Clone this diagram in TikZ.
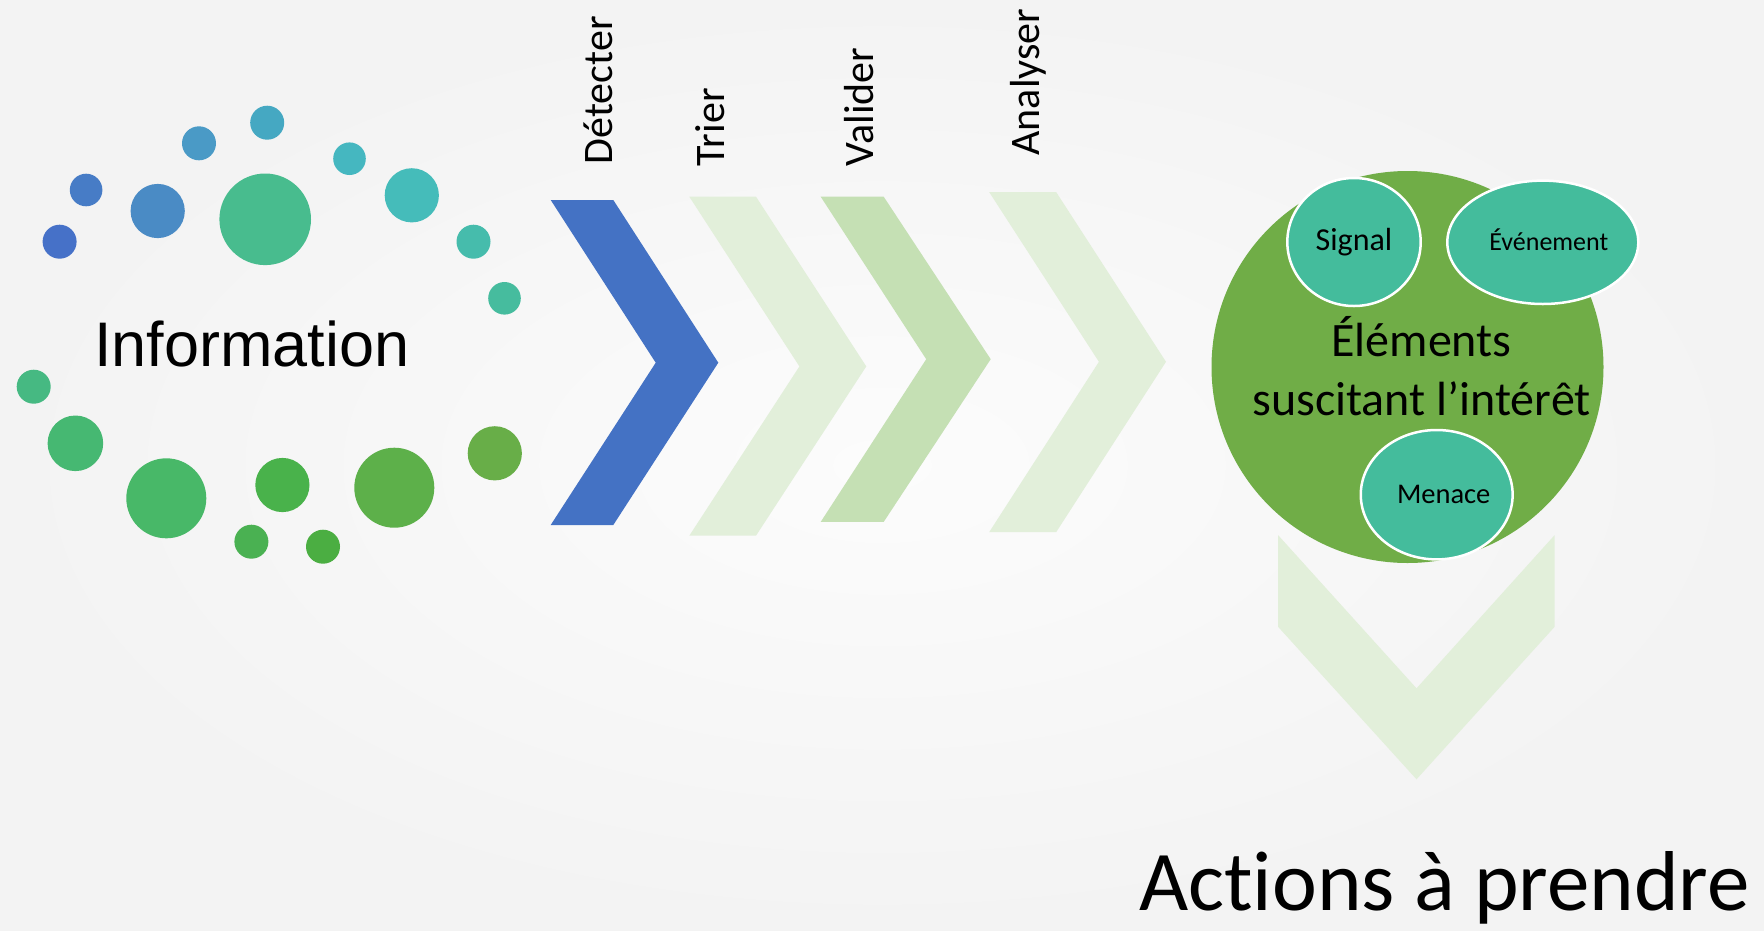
\documentclass[tikz,border=0pt]{standalone}
\usepackage{fontspec}
\setmainfont{Carlito}[Ligatures=NoCommon]
\newfontfamily\arialf{Liberation Sans}
\usetikzlibrary{shapes.geometric}
\definecolor{bgin}{HTML}{FCFCFC}
\definecolor{bgout}{HTML}{F3F3F3}
\definecolor{chevblue}{HTML}{4472C4}
\definecolor{chevlight}{HTML}{E2EFDA}
\definecolor{chevmid}{HTML}{C5E0B4}
\definecolor{biggreen}{HTML}{70AD47}
\definecolor{tealc}{HTML}{44BC9C}
\definecolor{c1}{HTML}{4671C8}
\definecolor{c2}{HTML}{477CC6}
\definecolor{c3}{HTML}{4A8BC5}
\definecolor{c4}{HTML}{4A9AC6}
\definecolor{c5}{HTML}{45A8C2}
\definecolor{c6}{HTML}{48BC8E}
\definecolor{c7}{HTML}{45B7C0}
\definecolor{c8}{HTML}{45BCBA}
\definecolor{c9}{HTML}{46BCAC}
\definecolor{c10}{HTML}{46BC9E}
\definecolor{c11}{HTML}{46B982}
\definecolor{c12}{HTML}{46B872}
\definecolor{c13}{HTML}{48B868}
\definecolor{c14}{HTML}{49B24B}
\definecolor{c15}{HTML}{4AB152}
\definecolor{c16}{HTML}{4BAE42}
\definecolor{c17}{HTML}{5DB04A}
\definecolor{c18}{HTML}{68AE48}
\begin{document}
\begin{tikzpicture}[x=1pt,y=-1pt,
  dot/.style={circle,inner sep=0pt,outer sep=0pt,minimum size=2*#1},
  txt/.style={inner sep=0pt,outer sep=0pt,text=black},
  bubble/.style={ellipse,fill=tealc,draw=white,line width=2.5pt,inner sep=0pt,text=black}]
\useasboundingbox (0,0) rectangle (1764,930);
\shade[inner color=bgin,outer color=bgout] (0,0) rectangle (1764,930);
% dots
\node[dot=17,fill=c1] (d1) at (59.6,241.7) {};
\node[dot=16.3,fill=c2] (d2) at (86.1,190) {};
\node[dot=27.1,fill=c3] (d3) at (157.7,211) {};
\node[dot=17,fill=c4] (d4) at (199,143.3) {};
\node[dot=17,fill=c5] (d5) at (267.2,122.7) {};
\node[dot=45.8,fill=c6] (d6) at (265.2,219.3) {};
\node[dot=16.3,fill=c7] (d7) at (349.5,158.7) {};
\node[dot=27.1,fill=c8] (d8) at (411.8,195.3) {};
\node[dot=17,fill=c9] (d9) at (473.5,241.7) {};
\node[dot=16.3,fill=c10] (d10) at (504.5,298.3) {};
\node[dot=17,fill=c11] (d11) at (33.7,386.7) {};
\node[dot=27.8,fill=c12] (d12) at (75.4,443.3) {};
\node[dot=40,fill=c13] (d13) at (166.3,498.3) {};
\node[dot=27.1,fill=c14] (d14) at (282.4,485) {};
\node[dot=17,fill=c15] (d15) at (251.4,541.7) {};
\node[dot=17,fill=c16] (d16) at (323,546.7) {};
\node[dot=40,fill=c17] (d17) at (394.3,487.7) {};
\node[dot=27.1,fill=c18] (d18) at (494.8,453.3) {};
\node[txt,anchor=base west,font=\arialf\fontsize{63}{70}\selectfont] (info) at (94,366.7) {Information};
% chevrons
\fill[chevblue] (550.7,200) -- (613.3,200) -- (718.3,362.7) -- (613.3,525) -- (550.7,525) -- (655.7,362.7) -- cycle;
\fill[chevlight] (689.3,196.7) -- (756,196.7) -- (866.3,366.4) -- (756,535.7) -- (689.3,535.7) -- (799.4,366.4) -- cycle;
\fill[chevmid] (820.7,196.7) -- (883.7,196.7) -- (990.7,359.2) -- (883.7,521.9) -- (820.7,521.9) -- (926.2,359.2) -- cycle;
\fill[chevlight] (989.2,192.1) -- (1056.2,192.1) -- (1166,361.8) -- (1056.2,532.1) -- (989.2,532.1) -- (1098.9,361.8) -- cycle;
% step labels
\begin{scope}[every node/.style={txt,rotate=90,anchor=base west,font=\fontsize{42}{48}\selectfont}]
\node (tdet) at (612.6,164.3) {Détecter};
\node (ttri) at (724.5,166) {Trier};
\node (tval) at (873.7,166) {Valider};
\node (tana) at (1039.6,155.4) {Analyser};
\end{scope}
% down chevron
\fill[chevlight] (1278,535) -- (1416.5,688.3) -- (1554.7,535) -- (1554.7,626.7) -- (1416.5,779.3) -- (1278,626.7) -- cycle;
% big circle
\node[circle,fill=biggreen,inner sep=0pt,minimum size=392] (big) at (1407.5,367) {};
\node[txt,anchor=base,font=\fontsize{48}{56}\selectfont] (el1) at (1421.5,356.7) {Éléments};
\node[txt,anchor=base,font=\fontsize{48}{56}\selectfont] (el2) at (1421.5,415) {suscitant l’intérêt};
\node[bubble,minimum width=133.4,minimum height=128,font=\fontsize{32}{38}\selectfont] (sig) at (1354,242) {Signal};
\node[bubble,minimum width=191,minimum height=123.4,font=\fontsize{26}{32}\selectfont] (evt) at (1542.8,242.3) {\raisebox{5pt}{\hspace{12pt}Événement}};
\node[bubble,minimum width=143.4,minimum height=129.4,font=\fontsize{28.5}{34}\selectfont] (men) at (1436.7,494.7) {\hspace{14pt}Menace};
\node[txt,anchor=base,font=\fontsize{85}{96}\selectfont] (act) at (1444.5,910) {Actions à prendre};
\end{tikzpicture}
\end{document}
